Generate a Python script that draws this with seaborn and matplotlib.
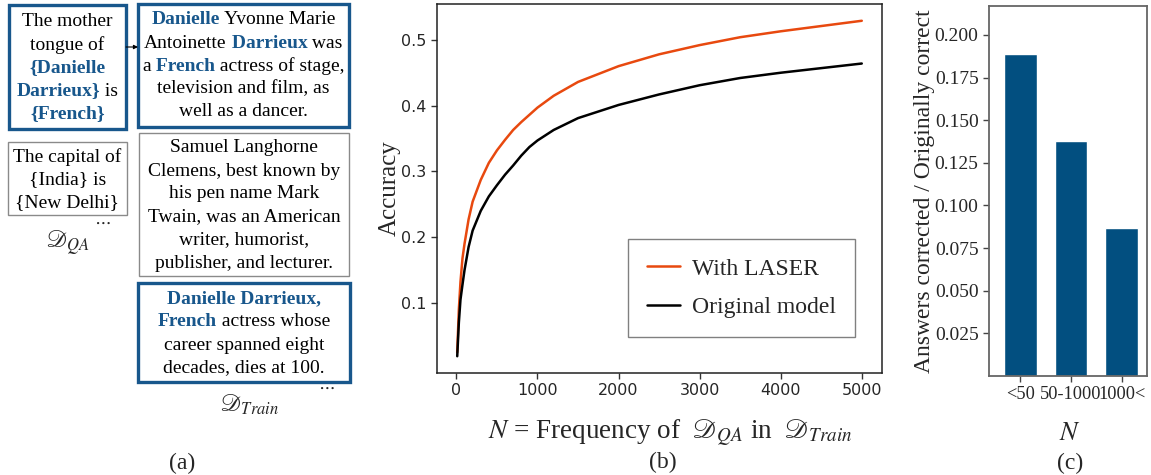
import numpy as np
import pandas as pd
import seaborn as sns
import matplotlib.pyplot as plt
from matplotlib.patches import Rectangle
from matplotlib.offsetbox import TextArea, HPacker, AnnotationBbox

# --- data ---------------------------------------------------------------
freq = [10, 30, 50, 75, 100, 150, 200, 300, 400, 500, 600, 700, 800, 900,
        1000, 1200, 1500, 2000, 2500, 3000, 3500, 4000, 4500, 5000]
acc_laser = [0.025, 0.090, 0.132, 0.168, 0.190, 0.227, 0.254, 0.287, 0.313, 0.332,
             0.348, 0.363, 0.375, 0.386, 0.397, 0.415, 0.436, 0.460, 0.478, 0.492,
             0.504, 0.513, 0.521, 0.529]
acc_orig = [0.019, 0.070, 0.105, 0.128, 0.150, 0.185, 0.210, 0.240, 0.262, 0.279,
            0.295, 0.309, 0.324, 0.337, 0.347, 0.363, 0.381, 0.401, 0.417, 0.431,
            0.442, 0.450, 0.457, 0.464]

bins = ["<50", "50-1000", "1000<"]
corrected = [0.189, 0.138, 0.087]

# text boxes of panel (a): each line is a list of (text, highlighted)
qa_fact = [
    [("The mother", False)],
    [("tongue of", False)],
    [("{Danielle", True)],
    [("Darrieux}", True), (" is", False)],
    [("{French}", True)],
]
qa_other = [
    [("The capital of", False)],
    [("{India} is", False)],
    [("{New Delhi}", False)],
]
train_doc1 = [
    [("Danielle", True), (" Yvonne Marie", False)],
    [("Antoinette", False), (" Darrieux", True), (" was", False)],
    [("a", False), (" French", True), (" actress of stage,", False)],
    [("television and film, as", False)],
    [("well as a dancer.", False)],
]
train_doc2 = [
    [("Samuel Langhorne", False)],
    [("Clemens, best known by", False)],
    [("his pen name Mark", False)],
    [("Twain, was an American", False)],
    [("writer, humorist,", False)],
    [("publisher, and lecturer.", False)],
]
train_doc3 = [
    [("Danielle Darrieux,", True)],
    [("French", True), (" actress whose", False)],
    [("career spanned eight", False)],
    [("decades, dies at 100.", False)],
]

BLUE = "#18578c"
ORANGE = "#e8490f"
BAR = "#024f80"
SERIF = ["Liberation Serif", "DejaVu Serif"]

sns.set_theme(style="ticks")
plt.rcParams["font.family"] = ["DejaVu Sans"]
plt.rcParams["mathtext.fontset"] = "stix"

W, H = 1151, 475
fig = plt.figure(figsize=(W / 100, H / 100), dpi=100)

# --- panel (a): drawn in pixel coordinates --------------------------------
ax_a = fig.add_axes([0, 0, 1, 1])
ax_a.set_xlim(0, W)
ax_a.set_ylim(H, 0)
ax_a.axis("off")


def put_line(cx, cy, segs, size=14):
    kids = [TextArea(t, textprops=dict(color=BLUE if hl else "black",
                                       fontweight="bold" if hl else "normal",
                                       family=SERIF, size=size))
            for t, hl in segs]
    pack = HPacker(children=kids, align="baseline", pad=0, sep=0)
    ax_a.add_artist(AnnotationBbox(pack, (cx, cy), frameon=False,
                                   box_alignment=(0.5, 0.5), pad=0))


def text_box(x0, y0, x1, y1, lines, first_y, step=23, thick=False):
    ax_a.add_patch(Rectangle((x0, y0), x1 - x0, y1 - y0, fill=False,
                             edgecolor=BLUE if thick else "#8a8a8a",
                             lw=2.4 if thick else 1.0))
    for i, segs in enumerate(lines):
        put_line((x0 + x1) / 2, first_y + i * step, segs)


text_box(9, 5, 126, 129, qa_fact, 22, thick=True)
text_box(8, 142, 127, 215, qa_other, 157)
text_box(138, 4, 349, 127, train_doc1, 20, thick=True)
text_box(139, 133, 349, 276, train_doc2, 148)
text_box(138, 283, 350, 382, train_doc3, 299, thick=True)

ax_a.annotate("", xy=(138, 47), xytext=(126, 47),
              arrowprops=dict(arrowstyle="-|>", lw=0.8, color="black",
                              mutation_scale=6, shrinkA=0, shrinkB=0))
ax_a.text(102, 222, r"$\cdots$", ha="center", va="center", size=13)
ax_a.text(326, 387, r"$\cdots$", ha="center", va="center", size=13)
ax_a.text(68, 243, r"$\mathscr{D}_{QA}$", ha="center", va="center", size=17)
ax_a.text(250, 405, r"$\mathscr{D}_{Train}$", ha="center", va="center", size=17)

# --- panel (b): accuracy vs frequency ------------------------------------
ax_b = fig.add_axes([437 / W, 1 - 373 / H, 445 / W, 369 / H])
sns.lineplot(x=freq, y=acc_laser, ax=ax_b, color=ORANGE, lw=1.8, label="With LASER")
sns.lineplot(x=freq, y=acc_orig, ax=ax_b, color="black", lw=1.8, label="Original model")
ax_b.set_yticks([0.1, 0.2, 0.3, 0.4, 0.5])
ax_b.set_xticks([0, 1000, 2000, 3000, 4000, 5000])
ax_b.tick_params(labelsize=11.5, length=4, width=1, color="#333333")
ax_b.set_ylabel("Accuracy", family=SERIF, size=18, labelpad=0)
for side in ["top", "right", "left", "bottom"]:
    ax_b.spines[side].set_visible(True)
    ax_b.spines[side].set_color("#222222")
    ax_b.spines[side].set_linewidth(1.1)
ax_b.legend(loc="lower right", bbox_to_anchor=(0.939, 0.0976),
            prop=dict(family=SERIF, size=17), frameon=True, fancybox=False,
            edgecolor="#808080", framealpha=1, handlelength=1.4,
            handletextpad=0.5, borderpad=0.8, labelspacing=0.72, borderaxespad=0)
ax_b.get_legend().get_frame().set_linewidth(1.0)

# --- panel (c): bars -----------------------------------------------------
ax_c = fig.add_axes([989 / W, 1 - 376 / H, 158 / W, 370 / H])
sns.barplot(x=bins, y=corrected, ax=ax_c, color=BAR, saturation=1, width=0.65)
ax_c.set_xlim(-0.62, 2.5)
ax_c.set_ylim(0, 0.217)
ax_c.set_yticks(np.arange(0.025, 0.2001, 0.025))
ax_c.set_yticklabels([f"{v:.3f}" for v in np.arange(0.025, 0.2001, 0.025)])
ax_c.tick_params(axis="y", labelsize=14, length=4, width=1, color="#444444")
ax_c.tick_params(axis="x", labelsize=13.2, length=4, width=1, color="#444444")
for lbl in ax_c.get_xticklabels() + ax_c.get_yticklabels():
    lbl.set_fontfamily(SERIF)
ax_c.set_xlabel("")
ax_c.set_ylabel("Answers corrected / Originally correct", family=SERIF, size=17, labelpad=0)
for side in ["top", "right", "left", "bottom"]:
    ax_c.spines[side].set_visible(True)
    ax_c.spines[side].set_color("#666666")
    ax_c.spines[side].set_linewidth(1.3)

# --- captions --------------------------------------------------------------
fig.text(670 / W, 1 - 433 / H,
         r"$N$ = Frequency of  $\mathscr{D}_{QA}$ in  $\mathscr{D}_{Train}$",
         ha="center", va="center", family=SERIF, size=19.5)
fig.text(1070 / W, 1 - 433 / H, r"$N$", ha="center", va="center", size=19)
fig.text(182 / W, 1 - 463 / H, "(a)", ha="center", va="center", family=SERIF, size=17)
fig.text(663 / W, 1 - 462 / H, "(b)", ha="center", va="center", family=SERIF, size=17)
fig.text(1070 / W, 1 - 463 / H, "(c)", ha="center", va="center", family=SERIF, size=17)

fig.savefig("out.png", dpi=100)
